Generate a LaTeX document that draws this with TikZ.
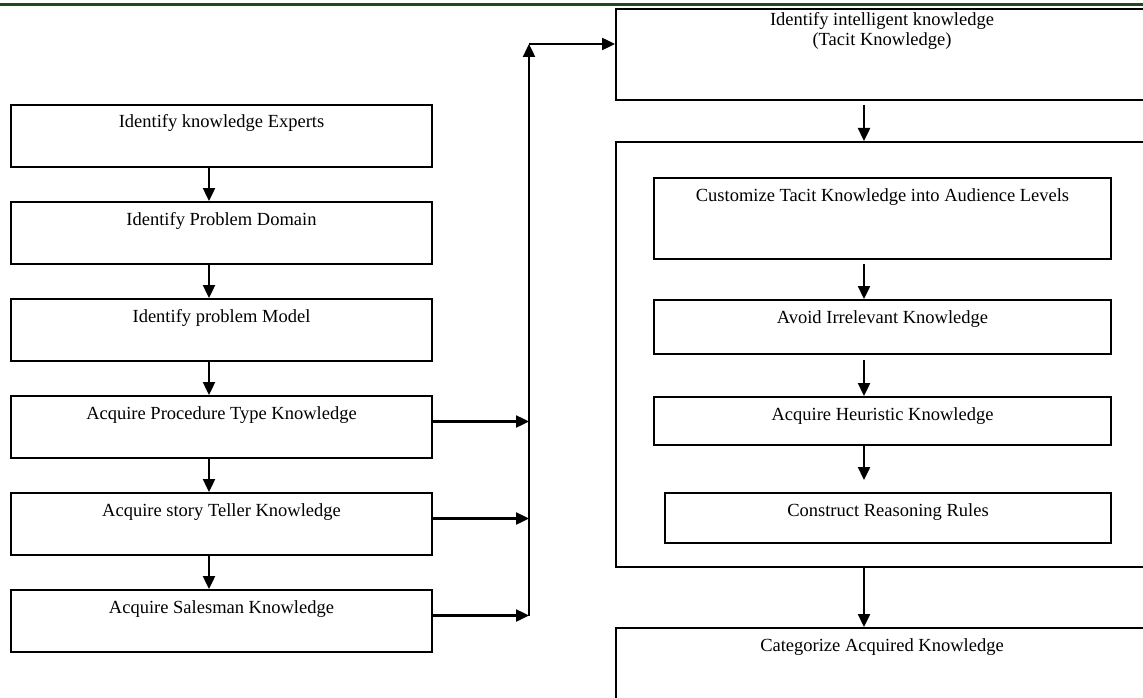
\documentclass[tikz,border=0pt]{standalone}
\usepackage{fontspec}
\setmainfont{Liberation Serif}
\usetikzlibrary{arrows.meta, positioning, calc}
\definecolor{headgreen}{HTML}{1E4A1E}

\begin{document}
\begin{tikzpicture}[x=1pt, y=-1pt,
    box/.style={draw, line width=2pt, inner sep=0pt, anchor=north west,
      font=\fontsize{18.5}{20}\selectfont, text height=23pt},
    lbox/.style={box, minimum width=421pt, text depth=39pt},
    arr/.style={-{Triangle[length=13pt, width=12pt]}, line width=2.4pt}]
  \useasboundingbox (0,0) rectangle (1143,698);
  % Header rule
  \draw[headgreen, line width=3pt] (0,5) -- (1143,5);
  % Left column
  \node[lbox] (expert) at (10,104) {Identify knowledge Experts};
  \node[lbox] (domain) at (10,201) {Identify Problem Domain};
  \node[lbox] (model) at (10,298) {Identify problem Model};
  \node[lbox] (proc) at (10,395) {Acquire Procedure Type Knowledge};
  \node[lbox] (story) at (10,492) {Acquire story Teller Knowledge};
  \node[lbox] (sales) at (10,589) {Acquire Salesman Knowledge};
  \foreach \a/\b in {expert/domain, domain/model, model/proc, proc/story, story/sales}
    \draw[arr] ([xshift=-12.5pt]\a.south) -- ([xshift=-12.5pt]\b.north);
  % Right column
  \node[box, minimum width=532pt, text height=37pt, text depth=54pt, align=center]
    (tacit) at (615,8) {Identify intelligent knowledge\\(Tacit Knowledge)};
  \node[box, minimum width=532pt, minimum height=425pt, text height=0pt] (frame) at (615,141) {};
  \node[box, minimum width=457pt, text depth=58pt] (custom) at (653,177)
    {Customize Tacit Knowledge into Audience Levels};
  \node[box, minimum width=457pt, text depth=31pt] (avoid) at (653,299) {Avoid Irrelevant Knowledge};
  \node[box, minimum width=457pt, text depth=25pt] (heur) at (653,396) {Acquire Heuristic Knowledge};
  \node[box, minimum width=446pt, text depth=27pt] (rules) at (664,492) {Construct Reasoning Rules};
  \node[box, minimum width=532pt, text depth=77pt] (categ) at (615,627) {Categorize Acquired Knowledge};
  \coordinate (rulesin) at ([xshift=-24pt, yshift=12pt]rules.north);
  \draw[arr, shorten <=4pt] ([xshift=-18pt]tacit.south) -- ([xshift=-18pt]frame.north);
  \draw[arr, shorten <=4pt] ([xshift=-18.5pt]custom.south) -- ([xshift=-18.5pt]avoid.north);
  \draw[arr, shorten <=5pt] ([xshift=-18.5pt]avoid.south) -- ([xshift=-18.5pt]heur.north);
  \draw[arr] ([xshift=-18.5pt]heur.south) -- (rulesin);
  \draw[arr] ([xshift=-18pt]frame.south) -- ([xshift=-18pt]categ.north);
  % Collecting line
  \coordinate (bustop) at (529,44);
  \draw[arr] ([yshift=5.5pt]proc.east) coordinate (p) -- (p -| bustop);
  \draw[arr] ([yshift=5.5pt]story.east) coordinate (s) -- (s -| bustop);
  \draw[arr] ([yshift=5.5pt]sales.east) coordinate (m) -- (m -| bustop);
  \draw[arr] (m -| bustop) -- (bustop);
  \draw[arr] (bustop) -- (bustop -| tacit.west);
\end{tikzpicture}
\end{document}
